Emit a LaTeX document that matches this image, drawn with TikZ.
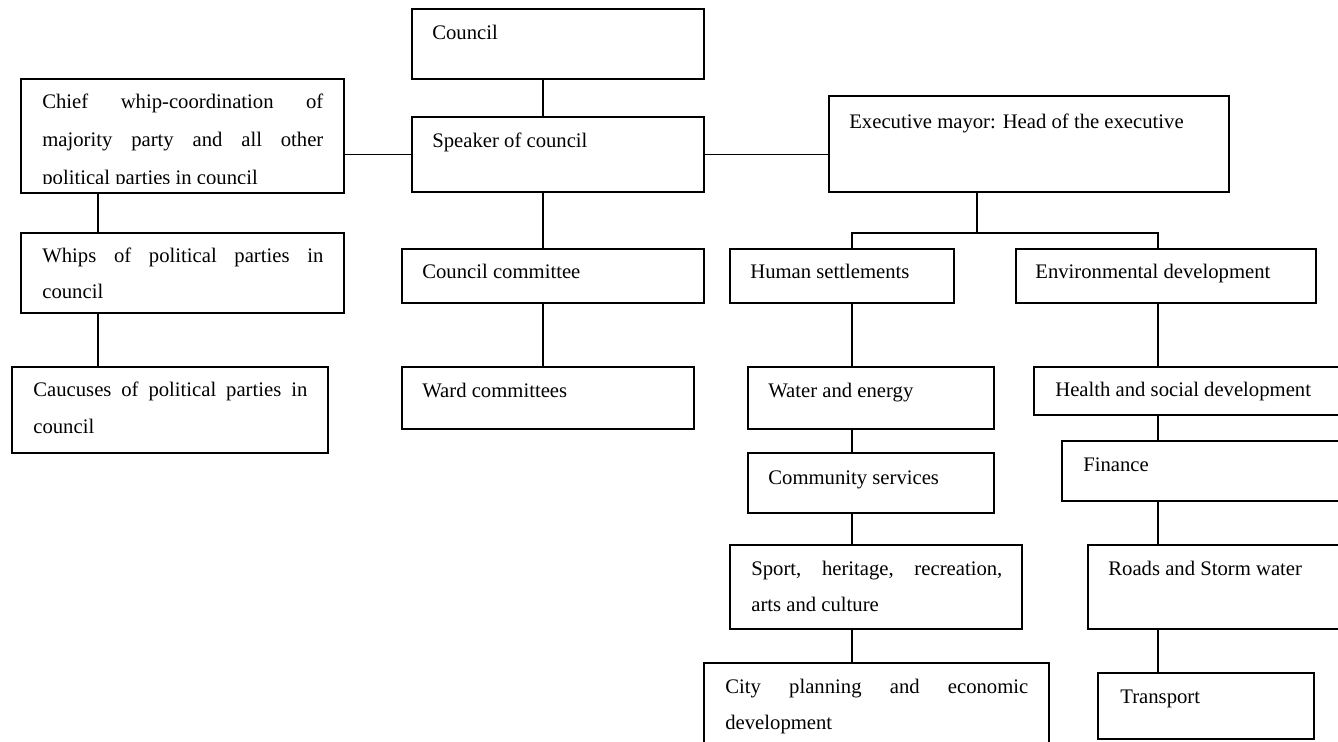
\documentclass[tikz,border=0pt]{standalone}
\usepackage{fontspec}
\setmainfont{Liberation Serif}
\newdimen\pxu \pxu=0.58pt
% box: name, left, top, right, bottom (in picture units)
\newcommand\orgbox[5]{%
  \node[box,anchor=north west,minimum width={(#4-#2)*\pxu},minimum height={(#5-#3)*\pxu}] (#1) at (#2,#3) {};}
% one line of text stretched to a given width
\newcommand\jline[2]{\makebox[#1\pxu][s]{#2}}
\begin{document}
\begin{tikzpicture}[x=0.58pt,y=-0.58pt,
  box/.style={draw,line width=0.8pt,inner sep=0pt,outer sep=0pt},
  txt/.style={anchor=base west,inner sep=0pt,font=\fontsize{12}{14}\selectfont},
  link/.style={line width=0.8pt}]
\useasboundingbox (0,0) rectangle (1338,742);
\clip (0,0) rectangle (1338,742);

% boxes
\orgbox{council}{412}{9}{704}{79}
\orgbox{speaker}{412}{117}{704}{192}
\orgbox{chief}{21}{79}{344}{193}
\orgbox{exec}{829}{96}{1229}{192}
\orgbox{whips}{21}{233}{344}{313}
\orgbox{caucus}{12}{367}{328}{453}
\orgbox{ccomm}{402}{249}{704}{303}
\orgbox{ward}{402}{367}{694}{429}
\orgbox{human}{730}{249}{954}{303}
\orgbox{env}{1016}{249}{1316}{303}
\orgbox{water}{748}{367}{994}{429}
\orgbox{comm}{748}{453}{994}{513}
\orgbox{sport}{730}{545}{1022}{629}
\orgbox{city}{704}{663}{1049}{770}
\orgbox{health}{1034}{367}{1370}{415}
\orgbox{finance}{1062}{441}{1370}{501}
\orgbox{roads}{1088}{545}{1370}{629}
\orgbox{transport}{1098}{673}{1314}{739}

% texts
\node[txt] (council-t) at (432,40) {Council};
\node[txt] (speaker-t) at (432,148) {Speaker of council};
\node[txt] (chief-1) at (42,109) {\jline{281}{Chief whip-coordination of}};
\node[txt] (chief-2) at (42,147) {\jline{281}{majority party and all other}};
\begin{scope}
  \clip (chief.north west) rectangle ([yshift=5.5pt]chief.south east);
  \node[txt] (chief-3) at (42,185) {political parties in council};
\end{scope}
\node[txt] (exec-t) at (849,129) {Executive mayor: Head of the executive};
\node[txt] (whips-1) at (42,263) {\jline{281}{Whips of political parties in}};
\node[txt] (whips-2) at (42,299) {council};
\node[txt] (caucus-1) at (33,397) {\jline{274}{Caucuses of political parties in}};
\node[txt] (caucus-2) at (33,433) {council};
\node[txt] (ccomm-t) at (422,279) {Council committee};
\node[txt] (ward-t) at (422,398) {Ward committees};
\node[txt] (human-t) at (750,279) {Human settlements};
\node[txt] (env-t) at (1035,279) {Environmental development};
\node[txt] (water-t) at (768,398) {Water and energy};
\node[txt] (comm-t) at (768,484) {Community services};
\node[txt] (sport-1) at (751,575) {\jline{251}{Sport, heritage, recreation,}};
\node[txt] (sport-2) at (751,611) {arts and culture};
\node[txt] (city-1) at (725,693) {\jline{303}{City planning and economic}};
\node[txt] (city-2) at (725,729) {development};
\node[txt] (health-t) at (1055,397) {Health and social development};
\node[txt] (finance-t) at (1083,471) {Finance};
\node[txt] (roads-t) at (1108,575) {Roads and Storm water};
\node[txt] (transport-t) at (1120,703) {Transport};

% connector columns
\coordinate (cspine) at (543,0);
\coordinate (lspine) at (98,0);
\coordinate (espine) at (977,0);
\coordinate (hspine) at (852,0);
\coordinate (rspine) at (1158,0);
\coordinate (branch) at (0,233);

% connectors
\draw[link] (council.south -| cspine) -- (speaker.north -| cspine);
\draw[link] (speaker.south -| cspine) -- (ccomm.north -| cspine);
\draw[link] (ccomm.south -| cspine) -- (ward.north -| cspine);
\draw[link] (chief.east |- speaker.west) -- (speaker.west);
\draw[link] (speaker.east) -- (exec.west |- speaker.east);
\draw[link] (chief.south -| lspine) -- (whips.north -| lspine);
\draw[link] (whips.south -| lspine) -- (caucus.north -| lspine);
\draw[link] (exec.south -| espine) -- (espine |- branch);
\draw[link] (human.north -| hspine) -- (hspine |- branch) -- (rspine |- branch) -- (env.north -| rspine);
\draw[link] (human.south -| hspine) -- (water.north -| hspine);
\draw[link] (water.south -| hspine) -- (comm.north -| hspine);
\draw[link] (comm.south -| hspine) -- (sport.north -| hspine);
\draw[link] (sport.south -| hspine) -- (city.north -| hspine);
\draw[link] (env.south -| rspine) -- (health.north -| rspine);
\draw[link] (health.south -| rspine) -- (finance.north -| rspine);
\draw[link] (finance.south -| rspine) -- (roads.north -| rspine);
\draw[link] (roads.south -| rspine) -- (transport.north -| rspine);
\end{tikzpicture}
\end{document}
